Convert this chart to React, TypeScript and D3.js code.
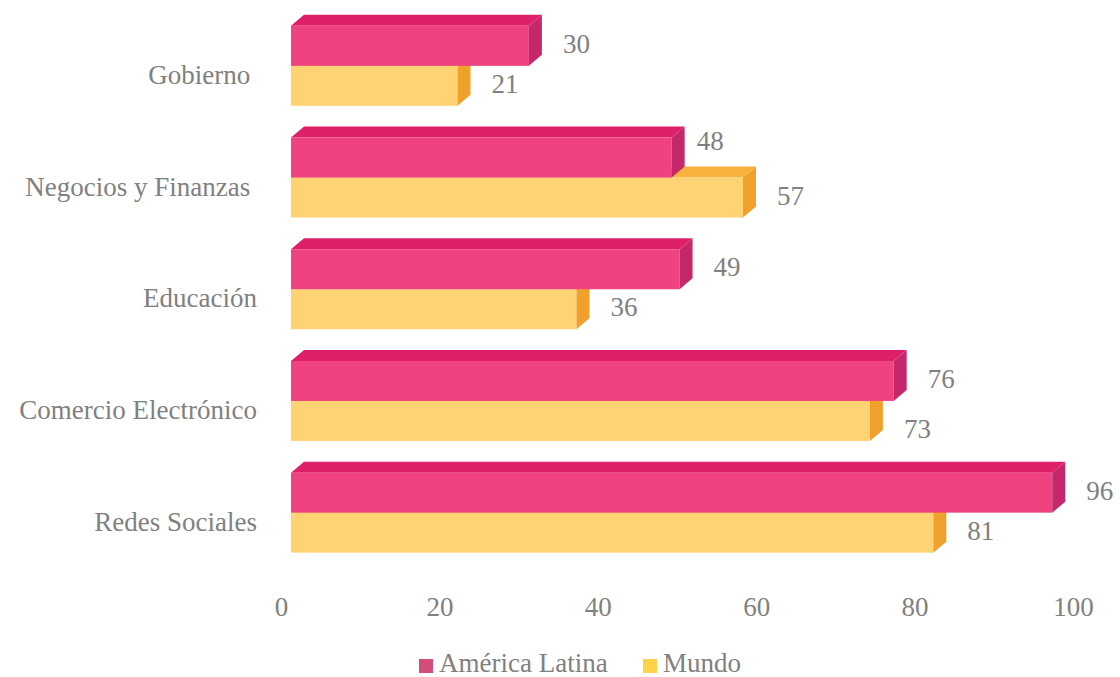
import React from "react";
import * as d3 from "d3";

const categories = ["Gobierno ", "Negocios y Finanzas ", "Educación", "Comercio Electrónico", "Redes Sociales"];
const seriesNames = ["América Latina", "Mundo"];
const americaLatina = [30, 48, 49, 76, 96];
const mundo = [21, 57, 36, 73, 81];
const tickValues = [0, 20, 40, 60, 80, 100];

const W = 1120;
const H = 677;
const DX = 13;
const DY = 11;
const FONT = "'Liberation Serif', 'Times New Roman', Times, serif";
const TEXT = "#808080";

// manual nudges of a few data labels, as in the reference ("series index-category index")
const labelNudge: Record<string, [number, number]> = {
  "0-1": [-9, -15],
  "1-3": [0, 10],
};

const faces = [
  { front: "#EF4281", top: "#DE1F6A", side: "#C4286A", legend: "#D24D7A" },
  { front: "#FFD374", top: "#F7B23E", side: "#EFA12C", legend: "#FFD24A" },
];

export default function App() {
  const xBar = d3.scaleLinear().domain([0, 100]).range([291, 1084]);
  const xTick = d3.scaleLinear().domain([0, 100]).range([281.5, 1073.5]);
  const y = d3.scaleBand<string>().domain(categories).range([10, 568.5]).paddingInner(0.284).paddingOuter(0.142);
  const ySeries = d3.scaleBand<string>().domain(seriesNames).range([0, y.bandwidth()]);
  const series = [americaLatina, mundo];

  const bar = (cat: string, si: number, v: number) => {
    const x0 = xBar(0);
    const x1 = xBar(v);
    const yt = (y(cat) as number) + (ySeries(seriesNames[si]) as number);
    const yb = yt + ySeries.bandwidth();
    const f = faces[si];
    const top = d3.path();
    top.moveTo(x0, yt);
    top.lineTo(x0 + DX, yt - DY);
    top.lineTo(x1 + DX, yt - DY);
    top.lineTo(x1, yt);
    top.closePath();
    const side = d3.path();
    side.moveTo(x1, yt);
    side.lineTo(x1 + DX, yt - DY);
    side.lineTo(x1 + DX, yb - DY);
    side.lineTo(x1, yb);
    side.closePath();
    return (
      <g key={cat + si}>
        <path d={top.toString()} fill={f.top} />
        <rect x={x0} y={yt} width={x1 - x0} height={yb - yt} fill={f.front} />
        <path d={side.toString()} fill={f.side} />
      </g>
    );
  };

  return (
    <svg width={W} height={H} style={{ position: "absolute", left: 0, top: 0, background: "#fff" }} fontFamily={FONT}>
      {categories.map((c, i) => (
        <g key={c}>
          {bar(c, 1, mundo[i])}
          {bar(c, 0, americaLatina[i])}
        </g>
      ))}
      {categories.map((c, i) =>
        series.map((s, si) => {
          const yt = (y(c) as number) + (ySeries(seriesNames[si]) as number);
          const [nx, ny] = labelNudge[si + "-" + i] || [0, 0];
          return (
            <text key={c + "l" + si} x={xBar(s[i]) + DX + 21 + nx} y={yt + ySeries.bandwidth() / 2 + 1 + ny} dominantBaseline="middle" fontSize={27} fill={TEXT}>
              {s[i]}
            </text>
          );
        })
      )}
      {categories.map((c) => (
        <text key={c + "cat"} x={257} y={(y(c) as number) + y.bandwidth() / 2 + 18} textAnchor="end" fontSize={27} fill={TEXT} style={{ whiteSpace: "pre" }}>
          {c}
        </text>
      ))}
      {tickValues.map((t) => (
        <text key={"t" + t} x={xTick(t)} y={616} textAnchor="middle" fontSize={27} fill={TEXT}>
          {t}
        </text>
      ))}
      <g>
        <rect x={419} y={659} width={14} height={14} fill={faces[0].legend} />
        <text x={439} y={672} fontSize={27} fill={TEXT}>{seriesNames[0]}</text>
        <rect x={643} y={659} width={14} height={14} fill={faces[1].legend} />
        <text x={663} y={672} fontSize={27} fill={TEXT}>{seriesNames[1]}</text>
      </g>
    </svg>
  );
}
